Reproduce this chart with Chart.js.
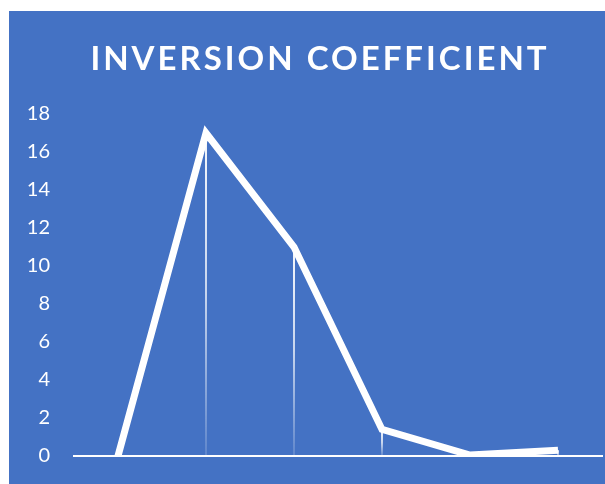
<!DOCTYPE html>
<html>
<head>
<meta charset="utf-8">
<script src="https://cdn.jsdelivr.net/npm/chart.js@4"></script>
<style>
  html, body { margin: 0; padding: 0; background: #fff; }
  #wrap { position: absolute; left: 9px; top: 11px; width: 596px; height: 473px; background: #4472C4; }
</style>
</head>
<body>
<div id="wrap"><canvas id="myChart" width="596" height="473"></canvas></div>
<script>
const titleText = 'INVERSION COEFFICIENT';
const labels = ['1', '2', '3', '4', '5', '6'];
const values = [0, 17, 11, 1.4, 0.05, 0.3];
const yTicks = [0, 2, 4, 6, 8, 10, 12, 14, 16, 18];

// title drawn by hand so it can have letter spacing
const spacedTitle = {
  id: 'spacedTitle',
  afterDraw(chart) {
    const c = chart.ctx;
    c.save();
    c.font = 'bold 33px Lato';
    c.letterSpacing = '3px';
    c.fillStyle = '#ffffff';
    c.textAlign = 'center';
    c.textBaseline = 'middle';
    c.fillText(titleText, chart.width / 2 + 13, 48);
    c.restore();
  }
};

// vertical drop lines from each point down to the axis, fading out
const dropLines = {
  id: 'dropLines',
  beforeDatasetsDraw(chart) {
    const c = chart.ctx;
    const x = chart.scales.x, y = chart.scales.y;
    const base = y.getPixelForValue(0);
    c.save();
    c.lineWidth = 2;
    values.forEach((v, i) => {
      const px = x.getPixelForValue(i);
      const py = y.getPixelForValue(v);
      if (base - py < 2) return;
      const g = c.createLinearGradient(0, py, 0, base);
      g.addColorStop(0, 'rgba(255,255,255,0.95)');
      g.addColorStop(0.5, 'rgba(255,255,255,0.7)');
      g.addColorStop(1, 'rgba(255,255,255,0.15)');
      c.strokeStyle = g;
      c.beginPath();
      c.moveTo(px, py);
      c.lineTo(px, base);
      c.stroke();
    });
    c.restore();
  }
};

const ctx = document.getElementById('myChart');
new Chart(ctx, {
  type: 'line',
  data: {
    labels: labels,
    datasets: [{
      data: values,
      borderColor: '#ffffff',
      borderWidth: 7,
      borderJoinStyle: 'miter',
      pointRadius: 0,
      tension: 0
    }]
  },
  options: {
    responsive: false,
    animation: false,
    layout: { padding: { top: 103, left: 18, right: 3, bottom: 28 } },
    plugins: {
      legend: { display: false },
      title: { display: false },
      tooltip: { enabled: false }
    },
    scales: {
      x: {
        offset: true,
        grid: { display: false, drawTicks: false },
        ticks: { display: false },
        border: { display: true, color: '#ffffff', width: 2 }
      },
      y: {
        min: 0,
        max: 18,
        afterBuildTicks(scale) { scale.ticks = yTicks.map(v => ({ value: v })); },
        afterFit(scale) {
          scale.width = 47;
          scale.paddingTop = 0;
          scale.paddingBottom = 0;
        },
        grid: { display: false, drawTicks: false },
        border: { display: false },
        ticks: {
          color: '#ffffff',
          padding: 24,
          font: { family: 'Lato', size: 20 }
        }
      }
    }
  },
  plugins: [dropLines, spacedTitle]
});
</script>
</body>
</html>
